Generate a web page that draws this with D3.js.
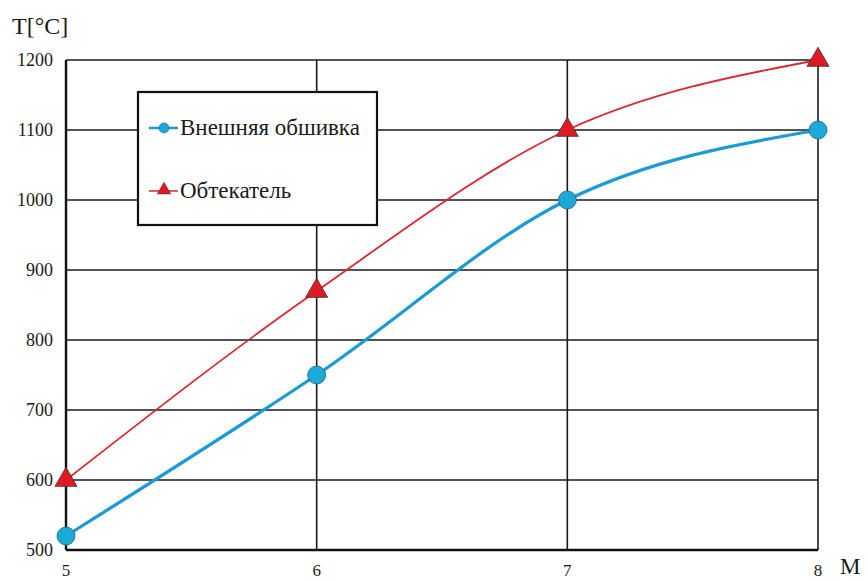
<!DOCTYPE html>
<html><head><meta charset="utf-8">
<script src="https://cdn.jsdelivr.net/npm/d3@7"></script>
<style>body{margin:0;background:#fff}svg{display:block}svg text{font-family:"Liberation Serif","Times New Roman",Times,serif;fill:#1a1a1a}</style>
</head><body><svg id="c" width="868" height="581"></svg>
<script>
const machValues = [5, 6, 7, 8];
const skinTemps = [520, 750, 1000, 1100];
const fairingTemps = [600, 870, 1100, 1200];
const yTicks = [500, 600, 700, 800, 900, 1000, 1100, 1200];
const seriesNames = ["Внешняя обшивка", "Обтекатель"];

const svg = d3.select("#c");
const x = d3.scaleLinear().domain([5, 8]).range([66, 818]);
const y = d3.scaleLinear().domain([500, 1200]).range([550, 60]);

svg.append("g").selectAll("line").data(yTicks).join("line")
  .attr("x1", x(5)).attr("x2", x(8)).attr("y1", d => y(d)).attr("y2", d => y(d))
  .attr("stroke", "#1a1a1a").attr("stroke-width", 1.6);
svg.append("g").selectAll("line").data(machValues).join("line")
  .attr("y1", y(500)).attr("y2", y(1200)).attr("x1", d => x(d)).attr("x2", d => x(d))
  .attr("stroke", "#1a1a1a").attr("stroke-width", 1.6);
svg.append("line").attr("x1", x(5)).attr("x2", x(5)).attr("y1", y(500)).attr("y2", y(1200)).attr("stroke", "#111").attr("stroke-width", 2.4);
svg.append("line").attr("x1", x(5)).attr("x2", x(8)).attr("y1", y(500)).attr("y2", y(500)).attr("stroke", "#111").attr("stroke-width", 2.4);

svg.append("g").selectAll("text").data(yTicks).join("text")
  .attr("x", 53).attr("y", d => y(d) + 6).attr("text-anchor", "end")
  .attr("font-size", 18).text(d => d);
svg.append("g").selectAll("text").data(machValues).join("text")
  .attr("x", d => x(d)).attr("y", 576).attr("text-anchor", "middle")
  .attr("font-size", 17).text(d => d);
svg.append("text").attr("x", 12).attr("y", 34).attr("font-size", 24).text("T[°C]");
svg.append("text").attr("x", 840).attr("y", 574).attr("font-size", 23).text("M");

const line = d3.line().x((d, i) => x(machValues[i])).y(d => y(d)).curve(d3.curveMonotoneX);

svg.append("path").attr("d", line(fairingTemps)).attr("fill", "none").attr("stroke", "#d9282f").attr("stroke-width", 1.8);
svg.append("path").attr("d", line(skinTemps)).attr("fill", "none").attr("stroke", "#1a9ad6").attr("stroke-width", 3.2);

const tri = d3.symbol().type(d3.symbolTriangle).size(210);
svg.append("g").selectAll("path").data(fairingTemps).join("path")
  .attr("d", tri).attr("transform", (d, i) => `translate(${x(machValues[i])},${y(d)})`)
  .attr("fill", "#e01a22").attr("stroke", "#333").attr("stroke-width", 0.8);
svg.append("g").selectAll("circle").data(skinTemps).join("circle")
  .attr("cx", (d, i) => x(machValues[i])).attr("cy", d => y(d)).attr("r", 9)
  .attr("fill", "#1aaad8").attr("stroke", "#2a5a78").attr("stroke-width", 0.8);

const lg = svg.append("g");
lg.append("rect").attr("x", 138).attr("y", 92).attr("width", 239).attr("height", 133)
  .attr("fill", "#fff").attr("stroke", "#111").attr("stroke-width", 2.2);
lg.append("line").attr("x1", 149).attr("x2", 178).attr("y1", 128).attr("y2", 128).attr("stroke", "#1a9ad6").attr("stroke-width", 2.5);
lg.append("circle").attr("cx", 164).attr("cy", 128).attr("r", 5).attr("fill", "#1aaad8").attr("stroke", "#2a5a78").attr("stroke-width", 0.6);
lg.append("text").attr("x", 180).attr("y", 135).attr("font-size", 23).text(seriesNames[0]);
lg.append("line").attr("x1", 149).attr("x2", 178).attr("y1", 191).attr("y2", 191).attr("stroke", "#d9282f").attr("stroke-width", 1.5);
lg.append("path").attr("d", d3.symbol().type(d3.symbolTriangle).size(80)).attr("transform", "translate(164,190)")
  .attr("fill", "#e01a22").attr("stroke", "#333").attr("stroke-width", 0.5);
lg.append("text").attr("x", 180).attr("y", 198).attr("font-size", 23).text(seriesNames[1]);
</script></body></html>
